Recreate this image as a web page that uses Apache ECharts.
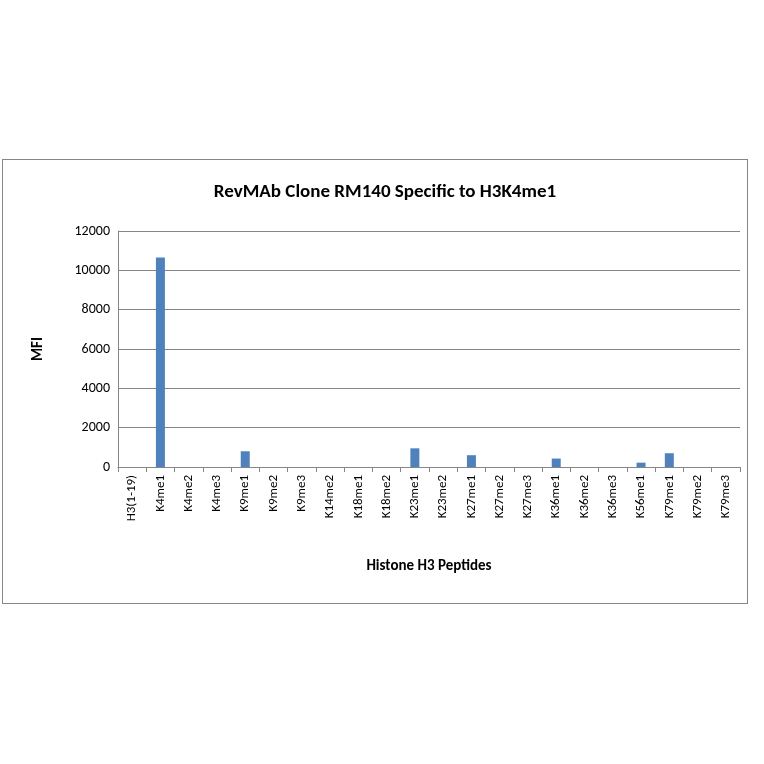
<!DOCTYPE html>
<html><head><meta charset="utf-8">
<script src="https://cdn.jsdelivr.net/npm/echarts@6/dist/echarts.min.js"></script>
<style>
html,body{margin:0;padding:0;background:#fff;}
#frame{position:absolute;left:2px;top:159px;width:746px;height:445px;border:1px solid #868686;box-sizing:border-box;}
#chart{position:absolute;left:0;top:0;width:764px;height:764px;}
</style></head>
<body>
<div id="frame"></div>
<div id="chart"></div>
<script>
// peptides on the x axis
var peptides = ['H3(1-19)','K4me1','K4me2','K4me3','K9me1','K9me2','K9me3','K14me2','K18me1','K18me2',
  'K23me1','K23me2','K27me1','K27me2','K27me3','K36me1','K36me2','K36me3','K56me1','K79me1','K79me2','K79me3'];
// MFI values
var mfi = [0,10650,0,0,800,0,0,0,0,0,950,0,600,0,0,430,0,0,220,700,0,0];
var yTicks = { min: 0, max: 12000, interval: 2000 };

var chart = echarts.init(document.getElementById('chart'));
var font = 'Calibri, Carlito, "Open Sans", Arial, sans-serif';
chart.setOption({
  animation: false,
  title: {
    text: 'RevMAb Clone RM140 Specific to H3K4me1',
    left: 380, top: 178, textAlign: 'center',
    textStyle: { fontFamily: font, fontSize: 19, fontWeight: 'bold', color: '#000' }
  },
  grid: { left: 118, right: 24, top: 231, bottom: 297, containLabel: false },
  xAxis: {
    type: 'category', data: peptides,
    name: 'Histone H3 Peptides', nameLocation: 'middle', nameGap: 92,
    nameTextStyle: { fontFamily: font, fontSize: 15, fontWeight: 'bold', color: '#000' },
    axisLine: { lineStyle: { color: '#868686' } },
    axisTick: { show: true, lineStyle: { color: '#868686' } },
    axisLabel: { rotate: 90, interval: 0, fontFamily: font, fontSize: 13, color: '#000' }
  },
  yAxis: {
    type: 'value', min: yTicks.min, max: yTicks.max, interval: yTicks.interval,
    name: 'MFI', nameLocation: 'middle', nameGap: 72, nameRotate: 90,
    nameTextStyle: { fontFamily: font, fontSize: 15, fontWeight: 'bold', color: '#000' },
    axisLine: { show: true, lineStyle: { color: '#868686' } },
    axisTick: { show: false },
    axisLabel: { fontFamily: font, fontSize: 14, color: '#000', formatter: function (v) { return String(v); } },
    splitLine: { lineStyle: { color: '#868686' } }
  },
  series: [{
    type: 'bar', data: mfi, barWidth: 9,
    itemStyle: { color: '#4F81BD' }
  }]
});
</script>
</body></html>
